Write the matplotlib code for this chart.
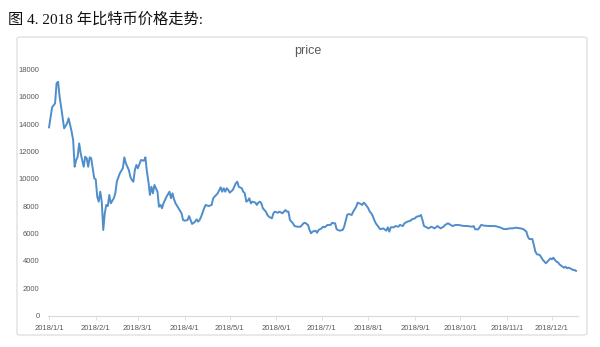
import numpy as np
import pandas as pd
import matplotlib
matplotlib.use("Agg")
import matplotlib.pyplot as plt
import matplotlib.dates as mdates
from matplotlib.patches import FancyBboxPatch

# ==========================================
# 数据 (从图中读取, 2018-01-01 起的天数)
# ==========================================
DAYS = [0, 2, 4, 5, 6, 7, 8, 10, 12, 13, 15, 16, 17, 18, 19, 20, 21, 23, 24, 25,
        26, 27, 28, 30, 31, 32, 33, 34, 35, 36, 37, 38, 39, 40, 41, 43, 44, 45, 47, 49,
        50, 51, 53, 54, 55, 56, 57, 58, 59, 61, 63, 64, 65, 66, 67, 68, 69, 70, 72, 73,
        74, 75, 76, 78, 80, 81, 82, 83, 84, 86, 88, 89, 90, 92, 93, 94, 95, 97, 98, 99,
        100, 101, 103, 104, 106, 108, 109, 111, 112, 114, 115, 116, 117, 118, 119, 120, 122, 124, 125, 126,
        128, 129, 130, 131, 132, 133, 134, 135, 137, 138, 139, 140, 141, 142, 144, 145, 146, 148, 149, 150,
        152, 153, 155, 156, 157, 158, 159, 160, 162, 163, 165, 167, 169, 170, 172, 173, 174, 175, 177, 178,
        179, 181, 182, 183, 185, 187, 188, 189, 190, 191, 193, 195, 196, 198, 199, 201, 202, 204, 205, 207,
        208, 209, 210, 212, 213, 214, 215, 216, 217, 219, 220, 222, 224, 225, 226, 227, 229, 230, 232, 233,
        235, 236, 238, 240, 241, 243, 244, 246, 247, 248, 249, 250, 252, 254, 256, 258, 260, 262, 263, 265,
        266, 268, 270, 272, 274, 276, 278, 281, 282, 283, 285, 287, 289, 292, 294, 296, 298, 300, 302, 304,
        306, 308, 310, 313, 315, 317, 318, 319, 321, 322, 323, 324, 326, 327, 328, 329, 330, 331, 333, 334,
        335, 336, 337, 338, 339, 341, 342, 343, 344, 345, 347, 348, 349, 350]

PRICE = [13760, 15220, 15510, 16980, 17090, 16000, 15270, 13690, 14050, 14420, 13440, 12830, 10880, 11370, 11610, 12590, 11860, 10880, 11610, 11500,
         10880, 11570, 11500, 10040, 9960, 8690, 8330, 9060, 8330, 6260, 7480, 8090, 8010, 8820, 8210, 8580, 8940, 9790, 10400, 10770,
         11570, 11130, 10640, 10150, 9910, 9790, 10640, 11010, 10770, 11370, 11320, 11570, 10520, 9790, 8820, 9420, 8940, 9550, 9060, 7960,
         8090, 7850, 8210, 8690, 9060, 8580, 8940, 8500, 8210, 7850, 7480, 6990, 6940, 6990, 7280, 6990, 6700, 6870, 7040, 6870,
         6990, 7230, 7850, 8090, 8010, 8090, 8580, 8820, 8940, 9380, 9060, 9310, 9060, 9310, 9180, 8990, 9180, 9670, 9790, 9420,
         9310, 9060, 8940, 8330, 8400, 8580, 8210, 8330, 8260, 8090, 8260, 8330, 8210, 7850, 7600, 7360, 7230, 7110, 7480, 7600,
         7520, 7600, 7480, 7600, 7720, 7600, 7600, 6990, 6750, 6550, 6500, 6500, 6750, 6790, 6630, 6260, 6020, 6140, 6210, 6060,
         6260, 6380, 6500, 6460, 6630, 6630, 6790, 6750, 6750, 6310, 6210, 6260, 6500, 7360, 7430, 7360, 7600, 7960, 8260, 8160,
         8090, 8260, 8160, 7850, 7600, 7480, 7280, 6990, 6750, 6460, 6310, 6380, 6210, 6460, 6140, 6460, 6460, 6550, 6500, 6630,
         6550, 6750, 6870, 6940, 7040, 7110, 7230, 7280, 7360, 6990, 6550, 6500, 6380, 6500, 6380, 6550, 6380, 6500, 6630, 6750,
         6680, 6550, 6630, 6630, 6580, 6550, 6550, 6500, 6550, 6310, 6310, 6630, 6580, 6550, 6550, 6550, 6500, 6430, 6330, 6330,
         6380, 6380, 6430, 6380, 6330, 6140, 5770, 5600, 5600, 5160, 4680, 4490, 4430, 4240, 4070, 3950, 3830, 3950, 4190, 4120,
         4240, 4070, 3950, 3900, 3750, 3580, 3510, 3580, 3460, 3510, 3410, 3340, 3340, 3270]

X_TICK_LABELS = ["2018/1/1", "2018/2/1", "2018/3/1", "2018/4/1", "2018/5/1", "2018/6/1",
                 "2018/7/1", "2018/8/1", "2018/9/1", "2018/10/1", "2018/11/1", "2018/12/1"]
Y_TICKS = [0, 2000, 4000, 6000, 8000, 10000, 12000, 14000, 16000, 18000]

TITLE = "图 4. 2018 年比特币价格走势:"
CHART_TITLE = "price"

LINE_COLOR = "#4F8DCB"
TEXT_GRAY = "#595959"

# ==========================================
# 그림
# ==========================================
start = pd.Timestamp("2018-01-01")
dates = start + pd.to_timedelta(DAYS, unit="D")
tick_dates = [pd.Timestamp(s.replace("/", "-")) for s in X_TICK_LABELS]

fig = plt.figure(figsize=(6.0, 3.47), dpi=100)

# 바깥 차트 테두리
frame = FancyBboxPatch((17 / 600, 1 - 335 / 347), 570 / 600, 298 / 347,
                       boxstyle="round,pad=0,rounding_size=0.006",
                       transform=fig.transFigure, facecolor="none",
                       edgecolor="#D9D9D9", linewidth=0.8, zorder=-1)
fig.patches.append(frame)

fig.text(8 / 600, 1 - 20 / 347, TITLE, fontsize=11, va="center", ha="left",
         family=["Liberation Serif", "Noto Sans CJK SC"], color="#111111")

ax = fig.add_axes([48 / 600, 1 - 315.7 / 347, 530 / 600, (315.7 - 69.3) / 347])
ax.patch.set_alpha(0)
ax.plot(dates, PRICE, color=LINE_COLOR, linewidth=1.4, solid_joinstyle="round")

ax.set_ylim(0, 18000)
ax.set_xlim(start - pd.Timedelta(days=0.7), start + pd.Timedelta(days=351.3))
ax.set_yticks(Y_TICKS)
ax.set_yticklabels([str(v) for v in Y_TICKS])
ax.set_xticks(tick_dates)
ax.set_xticklabels(X_TICK_LABELS)

for side in ["top", "right", "left"]:
    ax.spines[side].set_visible(False)
ax.spines["bottom"].set_color("#D9D9D9")
ax.spines["bottom"].set_linewidth(0.8)

ax.tick_params(axis="y", length=0, pad=6, labelsize=5.5, labelcolor=TEXT_GRAY)
ax.tick_params(axis="x", length=3, width=0.6, color="#D9D9D9", pad=4,
               labelsize=5.5, labelcolor=TEXT_GRAY)
for lbl in ax.get_xticklabels() + ax.get_yticklabels():
    lbl.set_family("Liberation Sans")

fig.text(308 / 600, 1 - 51 / 347, CHART_TITLE, fontsize=9, ha="center", va="center",
         color=TEXT_GRAY, family="Liberation Sans")

plt.savefig("out.png", dpi=100)
plt.close()
